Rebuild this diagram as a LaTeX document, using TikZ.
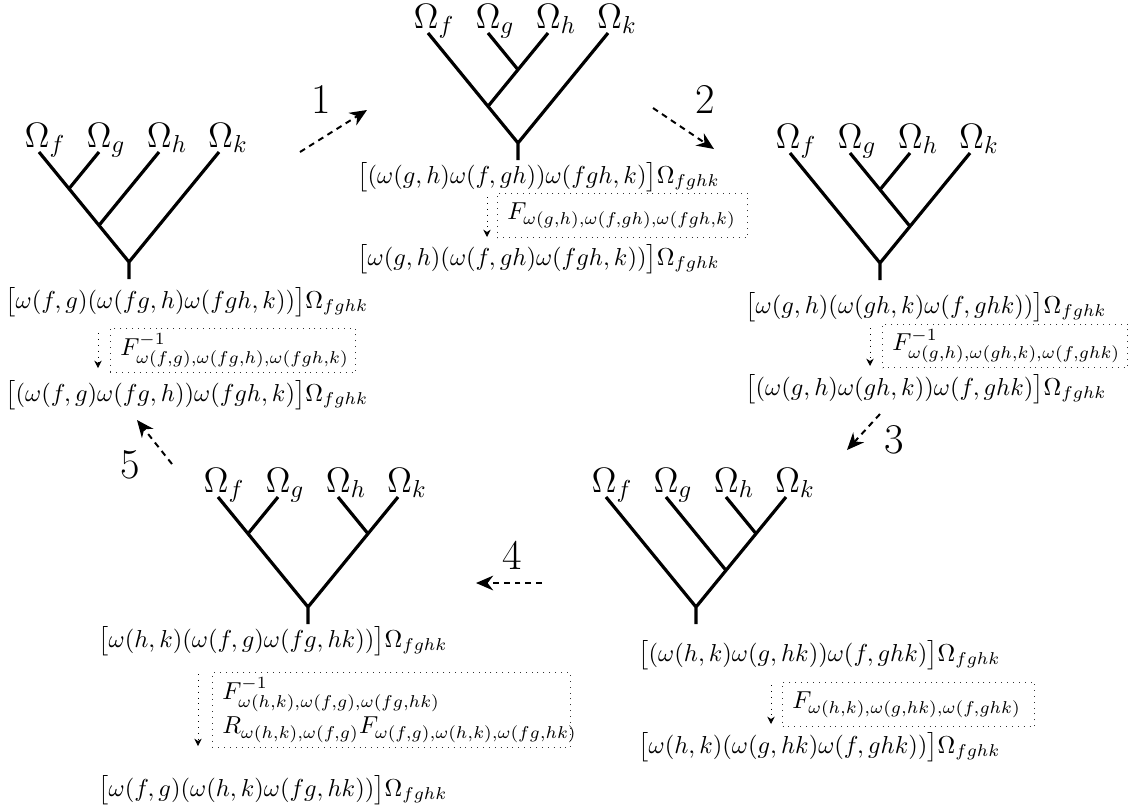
\documentclass[tikz,border=0pt]{standalone}
\usepackage{amsmath}
\usetikzlibrary{arrows.meta}

% one tree: leaves f,g,h,k spaced 60 units, root 110 units below, short stem
\newcommand\treeframe[3]{%
  \coordinate (#1f) at (#2,#3);
  \coordinate (#1g) at (#2+60,#3);
  \coordinate (#1h) at (#2+120,#3);
  \coordinate (#1k) at (#2+180,#3);
  \coordinate (#1r) at (#2+90,#3+110);
  \coordinate (#1s) at (#2+90,#3+127);
  \node[leaflabel] (#1Lf) at (#2+6,#3-5) {$\Omega_f$};
  \node[leaflabel] (#1Lg) at (#2+67,#3-5) {$\Omega_g$};
  \node[leaflabel] (#1Lh) at (#2+128,#3-5) {$\Omega_h$};
  \node[leaflabel] (#1Lk) at (#2+189,#3-5) {$\Omega_k$};
  \draw[branch] (#1f) -- (#1r) -- (#1k) (#1r) -- (#1s);
}

\begin{document}
\begin{tikzpicture}[x=0.408pt,y=-0.408pt,
  branch/.style={line width=1.3pt},
  leaflabel/.style={font=\Large, anchor=base, inner sep=0pt},
  formula/.style={anchor=west, inner sep=0pt},
  movebox/.style={draw=black!80, dotted, thin, anchor=north west, align=left,
                  inner xsep=4pt, inner ysep=1.5pt},
  movearrow/.style={dotted, thin, -{Stealth[length=3pt,width=3pt]}},
  steparrow/.style={thick, dash pattern=on 2.4pt off 2pt,
                    -{Stealth[length=7pt,width=6pt]}},
  stepnum/.style={font=\LARGE, inner sep=0pt}]
\useasboundingbox (0,0) rectangle (1133,808);

% ---------- tree 1 : ((f g) h) k ----------
\treeframe{a}{39}{152}
\coordinate (aj1) at (69,188.67);
\coordinate (aj2) at (99,225.33);
\draw[branch] (aj1) -- (ag) (aj2) -- (ah);
\node[formula] (aA) at (5,302) {$\bigl[\omega(f,g)(\omega(fg,h)\omega(fgh,k))\bigr]\Omega_{fghk}$};
\node[movebox, text width=92pt, minimum height=18pt] (aF) at (110,328)
  {$F^{-1}_{\omega(f,g),\omega(fg,h),\omega(fgh,k)}$};
\node[formula] (aB) at (5,395) {$\bigl[(\omega(f,g)\omega(fg,h))\omega(fgh,k)\bigr]\Omega_{fghk}$};
\coordinate (am0) at (98,333);
\coordinate (am1) at (98,368);
\draw[movearrow] (am0) -- (am1);

% ---------- tree 2 : (f (g h)) k ----------
\treeframe{b}{428}{33}
\coordinate (bj1) at (518,69.67);
\coordinate (bj2) at (488,106.33);
\draw[branch] (bj2) -- (bh) (bj1) -- (bg);
\node[formula] (bA) at (357,177) {$\bigl[(\omega(g,h)\omega(f,gh))\omega(fgh,k)\bigr]\Omega_{fghk}$};
\node[movebox, text width=94pt, minimum height=18pt] (bF) at (497,193)
  {$F_{\omega(g,h),\omega(f,gh),\omega(fgh,k)}$};
\node[formula] (bB) at (357,259) {$\bigl[\omega(g,h)(\omega(f,gh)\omega(fgh,k))\bigr]\Omega_{fghk}$};
\coordinate (bm0) at (487,197);
\coordinate (bm1) at (487,237);
\draw[movearrow] (bm0) -- (bm1);

% ---------- tree 3 : f ((g h) k) ----------
\treeframe{c}{790}{153}
\coordinate (cj1) at (880,189.67);
\coordinate (cj2) at (910,226.33);
\draw[branch] (cj2) -- (cg) (cj1) -- (ch);
\node[formula] (cA) at (745,307) {$\bigl[\omega(g,h)(\omega(gh,k)\omega(f,ghk))\bigr]\Omega_{fghk}$};
\node[movebox, text width=92pt, minimum height=17.6pt] (cF) at (882,324)
  {$F^{-1}_{\omega(g,h),\omega(gh,k),\omega(f,ghk)}$};
\node[formula] (cB) at (745,389) {$\bigl[(\omega(g,h)\omega(gh,k))\omega(f,ghk)\bigr]\Omega_{fghk}$};
\coordinate (cm0) at (870,328);
\coordinate (cm1) at (870,366);
\draw[movearrow] (cm0) -- (cm1);

% ---------- tree 4 : f (g (h k)) ----------
\treeframe{d}{606}{497}
\coordinate (dj1) at (756,533.67);
\coordinate (dj2) at (726,570.33);
\draw[branch] (dj2) -- (dg) (dj1) -- (dh);
\node[formula] (dA) at (638,655) {$\bigl[(\omega(h,k)\omega(g,hk))\omega(f,ghk)\bigr]\Omega_{fghk}$};
\node[movebox, text width=95pt, minimum height=18pt] (dF) at (782,682)
  {$F_{\omega(h,k),\omega(g,hk),\omega(f,ghk)}$};
\node[formula] (dB) at (638,747) {$\bigl[\omega(h,k)(\omega(g,hk)\omega(f,ghk))\bigr]\Omega_{fghk}$};
\coordinate (dm0) at (771,685);
\coordinate (dm1) at (771,724);
\draw[movearrow] (dm0) -- (dm1);

% ---------- tree 5 : (f g)(h k) ----------
\treeframe{e}{218}{497}
\coordinate (ej1) at (248,533.67);
\coordinate (ej2) at (368,533.67);
\draw[branch] (ej1) -- (eg) (ej2) -- (eh);
\node[formula] (eA) at (98,641) {$\bigl[\omega(h,k)(\omega(f,g)\omega(fg,hk))\bigr]\Omega_{fghk}$};
\node[movebox, text width=138pt, minimum height=30.6pt] (eF) at (212,672)
  {$F^{-1}_{\omega(h,k),\omega(f,g),\omega(fg,hk)}$\\[2pt]
   $R_{\omega(h,k),\omega(f,g)}F_{\omega(f,g),\omega(h,k),\omega(fg,hk)}$};
\node[formula] (eB) at (98,790) {$\bigl[\omega(f,g)(\omega(h,k)\omega(fg,hk))\bigr]\Omega_{fghk}$};
\coordinate (em0) at (198,674);
\coordinate (em1) at (198,746);
\draw[movearrow] (em0) -- (em1);

% ---------- moves between the trees ----------
\coordinate (s1a) at (300,152); \coordinate (s1b) at (367,110);
\coordinate (s2a) at (653,108); \coordinate (s2b) at (714,149);
\coordinate (s3a) at (880,414); \coordinate (s3b) at (847,450);
\coordinate (s4a) at (542,583); \coordinate (s4b) at (476,583);
\coordinate (s5a) at (172,464); \coordinate (s5b) at (137,420);
\draw[steparrow] (s1a) -- (s1b);
\draw[steparrow] (s2a) -- (s2b);
\draw[steparrow] (s3a) -- (s3b);
\draw[steparrow] (s4a) -- (s4b);
\draw[steparrow] (s5a) -- (s5b);
\node[stepnum] (n1) at (321,99) {1};
\node[stepnum] (n2) at (705,99) {2};
\node[stepnum] (n3) at (894,440) {3};
\node[stepnum] (n4) at (512,555) {4};
\node[stepnum] (n5) at (130,465) {5};
\end{tikzpicture}
\end{document}
